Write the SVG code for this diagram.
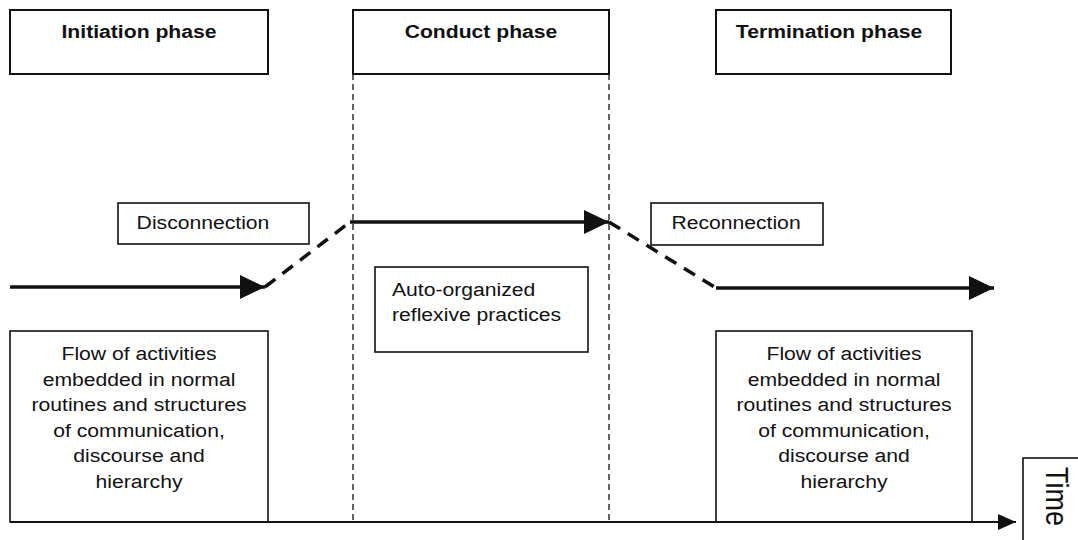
<svg xmlns="http://www.w3.org/2000/svg" width="1078" height="540" viewBox="0 0 1078 540">
<defs>
<marker id="ah" markerUnits="userSpaceOnUse" markerWidth="26" markerHeight="26" refX="25" refY="12" orient="auto"><path d="M0,0 L25,12 L0,24 z" fill="#111"/></marker>
<marker id="ahs" markerUnits="userSpaceOnUse" markerWidth="20" markerHeight="18" refX="18" refY="8" orient="auto"><path d="M0,0 L18,8 L0,16 z" fill="#111"/></marker>
<style>
.box{fill:#fff;stroke:#111;stroke-width:2}
.t{font-family:"Liberation Sans",Arial,sans-serif;font-size:18px;fill:#111}
.b{font-weight:bold}
.m{text-anchor:middle}
.div{stroke:#111;stroke-width:1.3;stroke-dasharray:6 4;fill:none}
.flow{stroke:#111;stroke-width:3.5;fill:none}
.dash{stroke:#111;stroke-width:3.5;fill:none;stroke-dasharray:13 9}
</style>
</defs>
<rect width="1078" height="540" fill="#fff"/>
<g id="dividers">
<line class="div" x1="353" y1="74" x2="353" y2="522"/>
<line class="div" x1="609" y1="74" x2="609" y2="522"/>
</g>
<g id="initiation"><rect class="box" x="10" y="10" width="258" height="64"/><text class="t b m" transform="translate(139,38) scale(1.175,1)">Initiation phase</text></g>
<g id="conduct"><rect class="box" x="353" y="10" width="256" height="64"/><text class="t b m" transform="translate(481,38) scale(1.175,1)">Conduct phase</text></g>
<g id="termination"><rect class="box" x="716" y="10" width="235" height="64"/><text class="t b m" transform="translate(829,38) scale(1.175,1)">Termination phase</text></g>
<g id="disconnection"><rect class="box" x="118" y="203" width="191" height="41" style="stroke-width:1.6"/><text class="t m" transform="translate(203,229) scale(1.175,1)">Disconnection</text></g>
<g id="reconnection"><rect class="box" x="651" y="203" width="172" height="42" style="stroke-width:1.6"/><text class="t m" transform="translate(736,229) scale(1.175,1)">Reconnection</text></g>
<g id="auto"><rect class="box" x="375" y="267" width="213" height="85" style="stroke-width:1.6"/>
<text class="t" transform="translate(392,296) scale(1.175,1)">Auto-organized</text>
<text class="t" transform="translate(392,321) scale(1.175,1)">reflexive practices</text></g>
<g id="flow-left"><rect class="box" x="10" y="331" width="258" height="191" style="stroke-width:1.6"/>
<g class="t m">
<text transform="translate(139,360) scale(1.175,1)">Flow of activities</text>
<text transform="translate(139,385.5) scale(1.175,1)">embedded in normal</text>
<text transform="translate(139,411) scale(1.175,1)">routines and structures</text>
<text transform="translate(139,436.5) scale(1.175,1)">of communication,</text>
<text transform="translate(139,462) scale(1.175,1)">discourse and</text>
<text transform="translate(139,487.5) scale(1.175,1)">hierarchy</text>
</g></g>
<g id="flow-right"><rect class="box" x="716" y="331" width="256" height="191" style="stroke-width:1.6"/>
<g class="t m">
<text transform="translate(844,360) scale(1.175,1)">Flow of activities</text>
<text transform="translate(844,385.5) scale(1.175,1)">embedded in normal</text>
<text transform="translate(844,411) scale(1.175,1)">routines and structures</text>
<text transform="translate(844,436.5) scale(1.175,1)">of communication,</text>
<text transform="translate(844,462) scale(1.175,1)">discourse and</text>
<text transform="translate(844,487.5) scale(1.175,1)">hierarchy</text>
</g></g>
<g id="time"><rect class="box" x="1023" y="458" width="70" height="100" style="stroke-width:1.6"/>
<text class="t" style="font-size:27px" transform="translate(1046,467) scale(1.175,1) rotate(90)">Time</text></g>
<g id="connectors">
<line class="flow" x1="10" y1="287" x2="265" y2="287" marker-end="url(#ah)"/>
<line class="dash" x1="265" y1="287" x2="350" y2="222"/>
<line class="flow" x1="350" y1="222" x2="609" y2="222" marker-end="url(#ah)"/>
<line class="dash" x1="609" y1="222" x2="716" y2="288"/>
<line class="flow" x1="716" y1="288" x2="994" y2="288" marker-end="url(#ah)"/>
<line stroke="#111" stroke-width="1.8" x1="10" y1="522" x2="1016" y2="522" marker-end="url(#ahs)"/>
</g>
</svg>
